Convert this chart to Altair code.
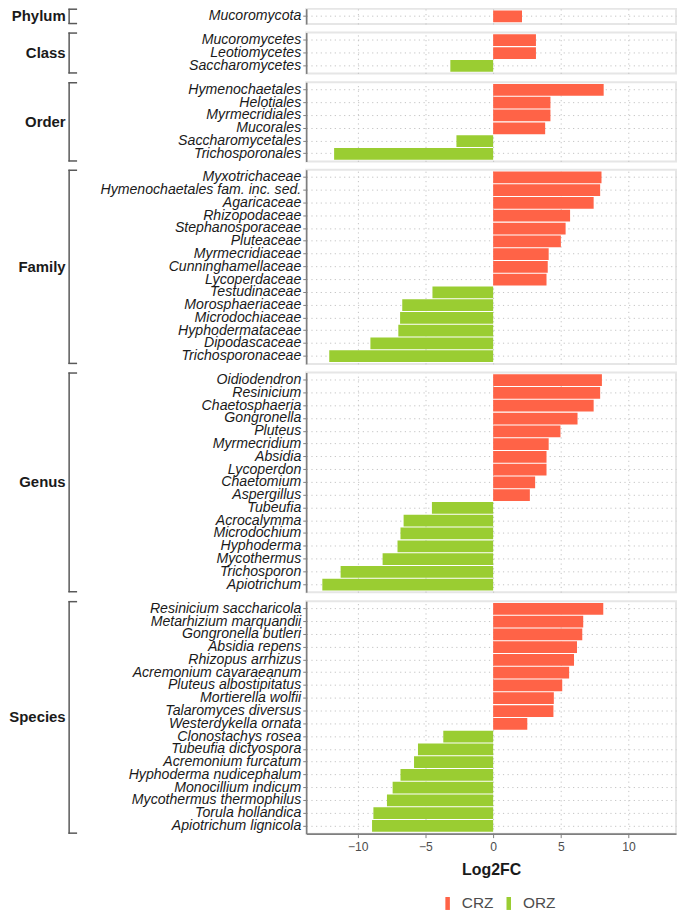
import altair as alt
import pandas as pd

groups = ["Phylum", "Class", "Order", "Family", "Genus", "Species"]

phylum_taxa = ["Mucoromycota"]
phylum_vals = [2.13]

class_taxa = ["Mucoromycetes", "Leotiomycetes", "Saccharomycetes"]
class_vals = [3.16, 3.16, -3.16]

order_taxa = ["Hymenochaetales", "Helotiales", "Myrmecridiales", "Mucorales",
              "Saccharomycetales", "Trichosporonales"]
order_vals = [8.16, 4.23, 4.23, 3.84, -2.71, -11.74]

family_taxa = ["Myxotrichaceae", "Hymenochaetales fam. inc. sed.", "Agaricaceae",
               "Rhizopodaceae", "Stephanosporaceae", "Pluteaceae", "Myrmecridiaceae",
               "Cunninghamellaceae", "Lycoperdaceae", "Testudinaceae",
               "Morosphaeriaceae", "Microdochiaceae", "Hyphodermataceae",
               "Dipodascaceae", "Trichosporonaceae"]
family_vals = [8.0, 7.9, 7.42, 5.68, 5.35, 5.0, 4.1, 4.03, 3.94, -4.48,
               -6.71, -6.87, -7.0, -9.06, -12.1]

genus_taxa = ["Oidiodendron", "Resinicium", "Chaetosphaeria", "Gongronella", "Pluteus",
              "Myrmecridium", "Absidia", "Lycoperdon", "Chaetomium", "Aspergillus",
              "Tubeufia", "Acrocalymma", "Microdochium", "Hyphoderma", "Mycothermus",
              "Trichosporon", "Apiotrichum"]
genus_vals = [8.03, 7.9, 7.42, 6.23, 4.97, 4.1, 3.94, 3.94, 3.1, 2.71,
              -4.52, -6.61, -6.84, -7.06, -8.16, -11.26, -12.61]

species_taxa = ["Resinicium saccharicola", "Metarhizium marquandii", "Gongronella butleri",
                "Absidia repens", "Rhizopus arrhizus", "Acremonium cavaraeanum",
                "Pluteus albostipitatus", "Mortierella wolfii", "Talaromyces diversus",
                "Westerdykella ornata", "Clonostachys rosea", "Tubeufia dictyospora",
                "Acremonium furcatum", "Hyphoderma nudicephalum", "Monocillium indicum",
                "Mycothermus thermophilus", "Torula hollandica", "Apiotrichum lignicola"]
species_vals = [8.13, 6.65, 6.58, 6.19, 5.97, 5.61, 5.1, 4.48, 4.45, 2.52,
                -3.68, -5.55, -5.84, -6.84, -7.42, -7.84, -8.84, -8.94]

sites = ["CRZ", "ORZ"]
site_colors = ["#FF6347", "#9ACD32"]
x_ticks = [-10, -5, 0, 5, 10]

group_data = {
    "Phylum": (phylum_taxa, phylum_vals),
    "Class": (class_taxa, class_vals),
    "Order": (order_taxa, order_vals),
    "Family": (family_taxa, family_vals),
    "Genus": (genus_taxa, genus_vals),
    "Species": (species_taxa, species_vals),
}

FONT = "Liberation Sans"
UNIT = 12.85
PLOT_W = 372
PAD_IN = 0.08
PAD_OUT = (0.2 + PAD_IN) / 2
GRID_DASH = [1.2, 3.5]
GRID_COLOR = "#c4c4c4"
AXIS_COLOR = "#7f7f7f"

panels = []
for g in groups:
    taxa, vals = group_data[g]
    df = pd.DataFrame({
        "taxon": taxa,
        "value": vals,
        "site": ["CRZ" if v > 0 else "ORZ" for v in vals],
    })
    h = (len(taxa) + 0.2) * UNIT
    last = g == groups[-1]

    if last:
        xaxis = alt.Axis(values=x_ticks, title="Log2FC", grid=True, gridDash=GRID_DASH,
                         gridColor=GRID_COLOR, labelFont=FONT, labelFontSize=12.2,
                         labelColor="#4d4d4d", titleFont=FONT, titleFontSize=16,
                         titleFontWeight="bold", titleColor="#1a1a1a", titlePadding=9,
                         tickColor=AXIS_COLOR, tickSize=4, domainColor=AXIS_COLOR,
                         domainWidth=1.6, labelPadding=3)
        legend = alt.Legend(orient="none", legendX=134.5, legendY=296, direction="horizontal",
                            title=None, padding=0,
                            symbolType="M-0.35,-1L0.35,-1L0.35,1L-0.35,1Z",
                            symbolSize=169, symbolStrokeWidth=0, symbolOpacity=1,
                            labelFont=FONT, labelFontSize=15.5, labelColor="#4d4d4d",
                            labelOffset=6.5, columnPadding=7.5)
    else:
        xaxis = alt.Axis(values=x_ticks, title=None, grid=True, gridDash=GRID_DASH,
                         gridColor=GRID_COLOR, labels=False, ticks=False, domain=False)
        legend = None

    bars = alt.Chart(df).mark_bar().encode(
        x=alt.X("value:Q", scale=alt.Scale(domain=[-13.8, 13.5], nice=False, zero=False),
                axis=xaxis),
        y=alt.Y("taxon:N", sort=taxa,
                scale=alt.Scale(paddingInner=PAD_IN, paddingOuter=PAD_OUT),
                axis=alt.Axis(title=None, labelFont=FONT, labelFontStyle="italic",
                              labelFontSize=14.2, labelColor="#1a1a1a", labelPadding=2,
                              labelLimit=400,
                              tickColor=AXIS_COLOR, tickSize=3.5, domainColor=AXIS_COLOR,
                              domainWidth=1.6, grid=True, gridDash=GRID_DASH,
                              gridColor=GRID_COLOR)),
        color=alt.Color("site:N", scale=alt.Scale(domain=sites, range=site_colors),
                        legend=legend),
    )

    lab_df = pd.DataFrame({"group": [g]})
    bx = -238.5
    vline = alt.Chart(lab_df).mark_rule(color="#595959", strokeWidth=1.5).encode(
        x=alt.value(bx), y=alt.value(0), y2=alt.value(h))
    top_t = alt.Chart(lab_df).mark_rule(color="#595959", strokeWidth=1.5).encode(
        x=alt.value(bx - 0.75), x2=alt.value(bx + 8), y=alt.value(0.5))
    bot_t = alt.Chart(lab_df).mark_rule(color="#595959", strokeWidth=1.5).encode(
        x=alt.value(bx - 0.75), x2=alt.value(bx + 8), y=alt.value(h - 0.5))
    label = alt.Chart(lab_df).mark_text(
        align="right", baseline="middle", font=FONT, fontSize=15, fontWeight="bold",
        color="#1a1a1a").encode(
        text="group:N", x=alt.value(-242), y=alt.value(h / 2))

    panel = alt.layer(bars, vline, top_t, bot_t, label).properties(width=PLOT_W, height=h)
    panels.append(panel)

chart = alt.vconcat(*panels, spacing=8, bounds="flush").resolve_legend(
    color="independent"
).properties(
    padding={"left": 0, "top": -4, "right": 0, "bottom": 0}
).configure_view(stroke="#e6e6e6", strokeWidth=2).configure_mark(font=FONT)

chart.save("out.html", embed_options={"renderer": "svg", "actions": False})
